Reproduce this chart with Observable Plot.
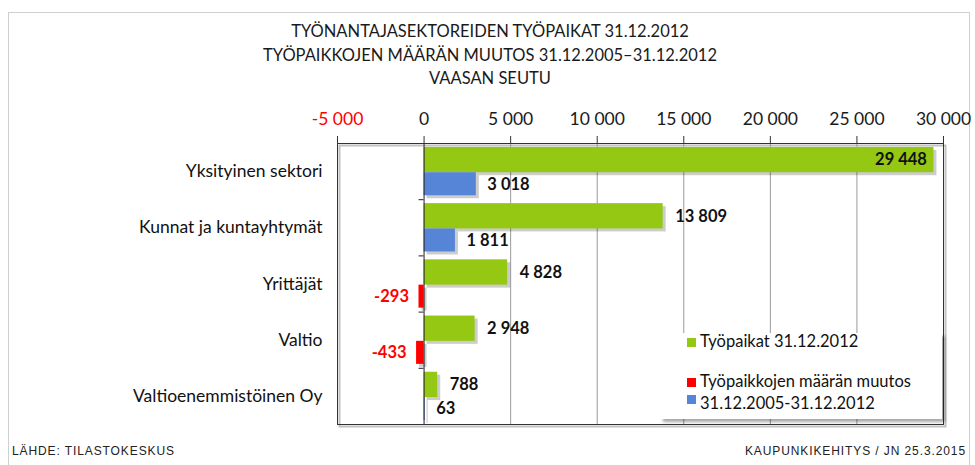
<!DOCTYPE html>
<html><head><meta charset="utf-8">
<script src="https://cdn.jsdelivr.net/npm/d3@7"></script>
<script src="https://cdn.jsdelivr.net/npm/@observablehq/plot@0.6"></script>
<style>
html,body{margin:0;padding:0;background:#fff;}
#wrap{position:relative;width:975px;height:465px;overflow:hidden;font-family:Lato,"Open Sans",sans-serif;}
#border{position:absolute;left:8px;top:12px;width:962px;height:460px;border:1px solid #cfcfcf;box-sizing:border-box;}
#title{position:absolute;left:0;width:980px;top:20px;text-align:center;font-size:16.5px;line-height:23.5px;color:#1a1a1a;}
#chart{position:absolute;left:0;top:90px;}
#legend{position:absolute;left:660px;top:333px;width:282px;height:86px;background:#fff;box-shadow:3px 3px 3px rgba(0,0,0,0.35);font-size:16.5px;color:#111;}
.li{position:absolute;left:40px;white-space:nowrap;}
.sw{position:absolute;left:27px;width:9px;height:9px;}
.foot{position:absolute;top:444px;font-family:"Liberation Sans Narrow","Liberation Sans",Arial,sans-serif;font-size:12px;letter-spacing:0.9px;color:#222;}
</style></head>
<body>
<div id="wrap">
  <div id="border"></div>
  <div id="title">TYÖNANTAJASEKTOREIDEN TYÖPAIKAT 31.12.2012<br>TYÖPAIKKOJEN MÄÄRÄN MUUTOS 31.12.2005–31.12.2012<br>VAASAN SEUTU</div>
  <div id="chart"></div>
  <div id="legend">
    <div class="sw" style="top:5px;background:#94c812"></div>
    <div class="li" style="top:-2px">Työpaikat 31.12.2012</div>
    <div class="sw" style="top:45px;background:#ff0000"></div>
    <div class="li" style="top:38px">Työpaikkojen määrän muutos</div>
    <div class="sw" style="top:62px;background:#5685d8"></div>
    <div class="li" style="top:60px">31.12.2005-31.12.2012</div>
  </div>
  <div class="foot" style="left:12px">LÄHDE: TILASTOKESKUS</div>
  <div class="foot" style="right:9px">KAUPUNKIKEHITYS / JN 25.3.2015</div>
</div>
<script>
const categories = ["Yksityinen sektori","Kunnat ja kuntayhtymät","Yrittäjät","Valtio","Valtioenemmistöinen Oy"];
const workplaces2012 = [29448, 13809, 4828, 2948, 788];
const change2005_2012 = [3018, 1811, -293, -433, 63];
const xTicks = [-5000, 0, 5000, 10000, 15000, 20000, 25000, 30000];

const fmt = d3.formatLocale({decimal:",", thousands:"\u00a0", grouping:[3], currency:["","€"], minus:"-"}).format(",d");

const rows = categories.map((c,i)=>({cat:c, i, w:workplaces2012[i], ch:change2005_2012[i]}));
const boundaries = categories.slice(1).map((c,i)=>i+0.5);

const green = "#94c812", blue = "#5685d8", red = "#ff0000";
const gTop = -0.43, mid = 0.02, cBot = 0.43;
const inside = d => d.w > 25000;

const chart = Plot.plot({
  width: 975,
  height: 350,
  marginTop: 53,
  marginBottom: 16,
  marginLeft: 337,
  marginRight: 32,
  style: {fontFamily: "Lato, 'Open Sans', sans-serif", background: "transparent"},
  x: {domain: [-5000, 30000], axis: null},
  y: {domain: [-0.5, 4.5], reverse: true, axis: null},
  marks: [
    Plot.gridX(xTicks.slice(2, -1), {stroke: "#9a9a9a", strokeOpacity: 1, strokeWidth: 1}),
    Plot.frame({stroke: "#999", strokeWidth: 2, strokeOpacity: 0.6, dx: 2, dy: 2}),
    Plot.frame({stroke: "#333", strokeWidth: 1, fill: "none"}),
    // bar shadows
    Plot.rectX(rows, {x1: 0, x2: "w", y1: d => d.i + gTop, y2: d => d.i + mid, fill: "#000", fillOpacity: 0.2, dx: 3, dy: 3}),
    Plot.rectX(rows, {x1: 0, x2: "ch", y1: d => d.i + mid, y2: d => d.i + cBot, fill: "#000", fillOpacity: 0.2, dx: 3, dy: 3}),
    // bars
    Plot.rectX(rows, {x1: 0, x2: "w", y1: d => d.i + gTop, y2: d => d.i + mid, fill: green}),
    Plot.rectX(rows, {x1: 0, x2: "ch", y1: d => d.i + mid, y2: d => d.i + cBot, fill: d => d.ch < 0 ? red : blue}),
    // zero axis line and category ticks
    Plot.ruleX([0], {stroke: "#222", strokeWidth: 1}),
    Plot.ruleY(boundaries, {y: d => d, x1: 0, x2: 0, insetLeft: -5, stroke: "#222"}),
    // category labels
    Plot.text(rows, {frameAnchor: "left", y: "i", text: "cat", textAnchor: "end", dx: -15, fontSize: 17.5, fill: "#111"}),
    // value labels: workplaces
    Plot.text(rows.filter(d => !inside(d)), {x: "w", y: d => d.i + (gTop + mid) / 2, text: d => fmt(d.w),
      textAnchor: "start", dx: 12, fontWeight: "bold", fontSize: 16.5, fill: "#111"}),
    Plot.text(rows.filter(inside), {x: "w", y: d => d.i + (gTop + mid) / 2, text: d => fmt(d.w),
      textAnchor: "end", dx: -7, fontWeight: "bold", fontSize: 16.5, fill: "#111"}),
    // value labels: change
    Plot.text(rows.filter(d => d.ch >= 0), {x: "ch", y: d => d.i + (mid + cBot) / 2, text: d => fmt(d.ch),
      textAnchor: "start", dx: 11, fontWeight: "bold", fontSize: 16.5, fill: "#111"}),
    Plot.text(rows.filter(d => d.ch < 0), {x: "ch", y: d => d.i + (mid + cBot) / 2, text: d => fmt(d.ch),
      textAnchor: "end", dx: -10, fontWeight: "bold", fontSize: 16.5, fill: red}),
    // top axis
    Plot.axisX(xTicks, {anchor: "top", tickSize: 8, tickPadding: 11, tickFormat: fmt, fontSize: 17.5,
      stroke: "#333", fill: d => d < 0 ? red : "#1a1a1a"})
  ]
});
document.getElementById("chart").appendChild(chart);
</script>
</body></html>
